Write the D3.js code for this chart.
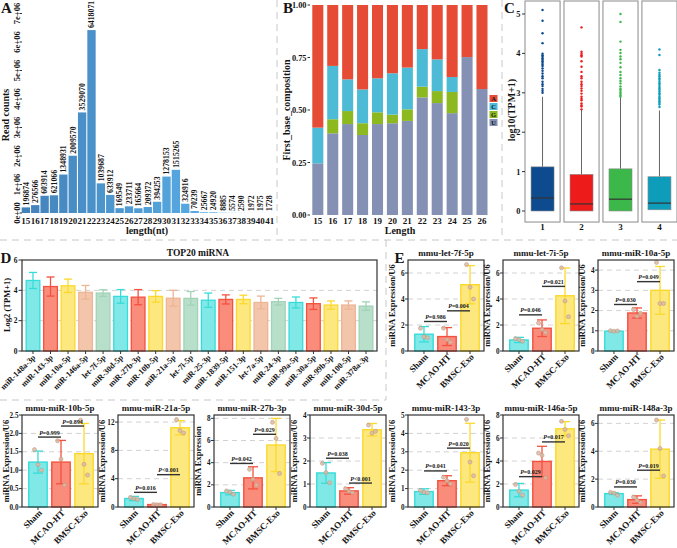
<!DOCTYPE html>
<html>
<head>
<meta charset="utf-8">
<script src="https://cdn.jsdelivr.net/npm/d3@7/dist/d3.min.js"></script>
<style>
  body { margin: 0; background: #fff; }
  text { font-family: "Liberation Serif", "Times New Roman", serif; font-weight: bold; fill: #151515; }
</style>
</head>
<body>
<svg id="fig" width="677" height="548"></svg>
<script>
// ---- A: read length distribution
const lengthsA = [15, 16, 17, 18, 19, 20, 21, 22, 23, 24, 25, 26, 27, 28, 29, 30, 31, 32, 33, 34, 35, 36, 37, 38, 39, 40, 41];
const readCounts = [196874, 276566, 603914, 621066, 1348931, 2009570, 3529070, 6418071, 1039687, 633912, 169549, 233711,
  165664, 209372, 394253, 1278153, 1515265, 324916, 70239, 25667, 24920, 8885, 5574, 2590, 1972, 1975, 1728];
const ticksA = [0, 1e6, 2e6, 3e6, 4e6, 5e6, 6e6, 7e6];
const tickLabelsA = ['0e+00', '1e+06', '2e+06', '3e+06', '4e+06', '5e+06', '6e+06', '7e+06'];

// ---- B: first base composition (fractions, bottom to top U, G, C, A)
const lengthsB = [15, 16, 17, 18, 19, 20, 21, 22, 23, 24, 25, 26];
const baseU = [0.246, 0.389, 0.433, 0.381, 0.433, 0.437, 0.448, 0.560, 0.533, 0.485, 0.752, 0.600];
const baseG = [0.000, 0.067, 0.062, 0.056, 0.056, 0.041, 0.055, 0.051, 0.057, 0.101, 0.000, 0.000];
const baseC = [0.170, 0.254, 0.151, 0.161, 0.162, 0.197, 0.199, 0.179, 0.151, 0.071, 0.000, 0.000];
const baseA = [0.584, 0.290, 0.354, 0.402, 0.349, 0.325, 0.298, 0.210, 0.259, 0.343, 0.248, 0.400];

// ---- C: log10(TPM+1) boxplots
const groupsC = ['1', '2', '3', '4'];
const q1C = [0, 0, 0, 0.03];
const medC = [0.33, 0.18, 0.30, 0.20];
const q3C = [1.12, 0.93, 1.07, 0.87];
const whiskC = [2.9, 2.57, 2.9, 2.55];
const outliersC = [
  [5.10, 4.83, 4.51, 4.26, 3.99, 3.95, 3.92, 3.88, 3.84, 3.80, 3.76, 3.72, 3.68, 3.62, 3.56, 3.49, 3.42, 3.37, 3.28, 3.22, 3.17, 3.10, 3.05, 3.00],
  [4.66, 4.04, 3.99, 3.95, 3.92, 3.80, 3.66, 3.53, 3.42, 3.37, 3.28, 3.22, 3.17, 3.11, 3.05, 2.98, 2.90, 2.85, 2.81, 2.73, 2.68, 2.65, 2.58],
  [5.00, 4.80, 4.30, 4.09, 4.01, 3.92, 3.85, 3.76, 3.65, 3.53, 3.45, 3.37, 3.30, 3.24, 3.16, 3.10, 3.07, 3.02, 2.98, 2.94, 2.90],
  [4.10, 3.96, 3.58, 3.51, 3.46, 3.42, 3.37, 3.33, 3.28, 3.24, 3.20, 3.15, 3.11, 3.07, 3.03, 2.99, 2.95, 2.90, 2.86, 2.82, 2.78, 2.74, 2.70, 2.64]
];

// ---- D: top20 miRNA
const mirD = ['miR-148a-3p', 'miR-143-3p', 'miR-10a-5p', 'miR-146a-5p', 'let-7f-5p', 'miR-30d-5p', 'miR-27b-3p', 'miR-10b-5p',
  'miR-21a-5p', 'let-7i-5p', 'miR-25-3p', 'miR-1839-5p', 'miR-151-3p', 'let-7a-5p', 'miR-24-3p', 'miR-99a-5p',
  'miR-30a-5p', 'miR-99b-5p', 'miR-100-5p', 'miR-378a-3p'];
const meanD = [4.65, 4.25, 4.30, 3.87, 3.82, 3.60, 3.55, 3.60, 3.48, 3.47, 3.35, 3.40, 3.40, 3.20, 3.25, 3.20, 3.12, 3.03, 3.03, 2.96];
const sdD = [0.53, 0.63, 0.44, 0.45, 0.22, 0.45, 0.50, 0.38, 0.52, 0.45, 0.47, 0.30, 0.28, 0.42, 0.22, 0.36, 0.38, 0.27, 0.27, 0.28];

// ---- E: qPCR panels
const groupsE = ['Sham', 'MCAO-HT', 'BMSC-Exo'];
const titlesE = ['mmu-let-7f-5p', 'mmu-let-7i-5p', 'mmu-miR-10a-5p', 'mmu-miR-10b-5p', 'mmu-miR-21a-5p',
  'mmu-miR-27b-3p', 'mmu-miR-30d-5p', 'mmu-miR-143-3p', 'mmu-miR-146a-5p', 'mmu-miR-148a-3p'];
const yLabelsE = ['miRNA Expression/U6', 'miRNA Expression/U6', 'miRNA Expression/U6', 'miRNA Expression/U6', 'miRNA Expression/U6',
  'miRNA Expression', 'miRNA Expression/U6', 'miRNA Expression/U6', 'miRNA Expression/U6', 'miRNA Expression/U6'];
const yMaxE = [7, 7, 4.5, 2.5, 13, 8.3, 4, 5, 8, 6.6];
const ticksE = [[0, 2, 4, 6], [0, 2, 4, 6], [0, 1, 2, 3, 4], [0, 0.5, 1, 1.5, 2, 2.5], [0, 4, 8, 12],
  [0, 2, 4, 6, 8], [0, 1, 2, 3, 4], [0, 1, 2, 3, 4, 5], [0, 2, 4, 6, 8], [0, 2, 4, 6]];
const meansE = [[1.29, 1.11, 5.10], [0.85, 1.75, 4.25], [0.98, 1.88, 3.00], [1.22, 1.22, 1.45], [1.20, 0.34, 11.2],
  [1.30, 2.63, 5.59], [1.48, 0.70, 3.36], [0.84, 1.43, 2.95], [1.47, 3.96, 6.80], [0.96, 0.53, 4.15]];
const sdE = [[0.59, 0.69, 1.47], [0.20, 0.64, 2.14], [0.03, 0.25, 1.18], [0.30, 0.59, 0.82], [0.30, 0.05, 1.00],
  [0.20, 1.00, 2.40], [0.45, 0.14, 0.27], [0.15, 0.27, 1.60], [0.58, 1.32, 0.62], [0.06, 0.27, 2.09]];
const pointsE = [
  [[1.75, 1.10, 1.02], [1.76, 0.88, 0.68], [6.65, 4.90, 4.00]],
  [[0.95, 0.88, 0.75], [2.15, 1.65, 1.42], [6.40, 3.85, 2.64]],
  [[1.00, 0.98, 0.99], [2.05, 1.72, 1.87], [4.38, 2.35, 2.35]],
  [[1.56, 1.15, 1.00], [1.80, 1.30, 0.60], [2.36, 1.16, 0.87]],
  [[1.35, 1.20, 1.05], [0.36, 0.33, 0.32], [12.35, 10.8, 10.45]],
  [[1.45, 1.35, 1.15], [3.40, 2.50, 1.98], [7.64, 6.19, 3.02]],
  [[1.90, 1.50, 1.05], [0.80, 0.68, 0.62], [3.56, 3.21, 3.29]],
  [[0.90, 0.80, 0.78], [1.62, 1.42, 1.25], [4.76, 2.44, 1.70]],
  [[1.96, 1.38, 1.03], [4.69, 4.49, 2.55], [7.45, 6.75, 6.20]],
  [[1.05, 1.00, 0.85], [0.72, 0.48, 0.31], [6.24, 4.20, 2.23]]
];
const pLabelsE = [['P=0.986', 'P=0.004'], ['P=0.046', 'P=0.021'], ['P=0.030', 'P=0.049'], ['P=0.999', 'P=0.894'],
  ['P=0.016', 'P<0.001'], ['P=0.042', 'P=0.029'], ['P=0.038', 'P<0.001'], ['P=0.041', 'P=0.020'],
  ['P=0.029', 'P=0.017'], ['P=0.030', 'P=0.019']];
const bracketYE = [[2.27, 3.09], [2.78, 4.97], [2.3, 3.43], [1.9, 2.2], [2.07, 4.57], [3.93, 6.56], [2.12, 1.04],
  [1.96, 3.2], [2.64, 5.66], [1.44, 2.64]];

const svg = d3.select('#fig');

function label(g, x, y, s, size, anchor, rot) {
  const t = g.append('text').attr('font-size', size).attr('text-anchor', anchor || 'start').text(s);
  if (rot) t.attr('transform', `translate(${x},${y}) rotate(${rot})`);
  else t.attr('x', x).attr('y', y);
  return t;
}

// dashed panel separators
const sep = svg.append('g').attr('stroke', '#c8c8c8').attr('stroke-width', 1).attr('stroke-dasharray', '7,5');
[[0, 240, 677, 240], [277, 0, 277, 240], [502, 0, 502, 240], [386, 240, 386, 400], [0, 400, 386, 400]].forEach(l => {
  sep.append('line').attr('x1', l[0]).attr('y1', l[1]).attr('x2', l[2]).attr('y2', l[3]);
});

// ================= A =================
const gA = svg.append('g');
const xA = d3.scaleBand().domain(lengthsA).range([21.5, 274]).paddingInner(0.11).paddingOuter(0.02);
const yA = d3.scaleLinear().domain([0, 7e6]).range([213, 13.5]);
const colA = d3.scaleLinear().domain([15, 41]).range(['#4482ba', '#5ebbf3']);
gA.selectAll('rect').data(readCounts).join('rect')
  .attr('x', (d, i) => xA(lengthsA[i])).attr('y', d => yA(d))
  .attr('width', xA.bandwidth()).attr('height', d => yA(0) - yA(d))
  .attr('fill', (d, i) => colA(lengthsA[i]));
gA.selectAll('text.val').data(readCounts).join('text').attr('class', 'val')
  .attr('font-size', 7.8)
  .attr('transform', (d, i) => `translate(${xA(lengthsA[i]) + xA.bandwidth() / 2 + 2.8},${yA(d) - 2}) rotate(-90)`)
  .text(d => d);
ticksA.forEach((t, i) => {
  gA.append('line').attr('x1', 19.5).attr('x2', 22).attr('y1', yA(t)).attr('y2', yA(t)).attr('stroke', '#333');
  label(gA, 19.5, yA(t), tickLabelsA[i], 8.6, 'middle', -90);
});
lengthsA.forEach(l => label(gA, xA(l) + xA.bandwidth() / 2, 223.5, l, 9, 'middle'));
label(gA, 147, 233.5, 'length(nt)', 10, 'middle');
label(gA, 9, 115, 'Read counts', 10, 'middle', -90);
label(gA, 1, 13, 'A', 15);

// ================= B =================
const gB = svg.append('g');
const xB = d3.scaleBand().domain(lengthsB).range([310.8, 489]).paddingInner(0.26).paddingOuter(0.1);
const yB = d3.scaleLinear().domain([0, 1]).range([215, 5]);
const rowsB = lengthsB.map((l, i) => ({ len: l, U: baseU[i], G: baseG[i], C: baseC[i], A: baseA[i] }));
const colB = { A: '#e64b35', C: '#4dbbd5', G: '#8db920', U: '#8491b4' };
const stackB = d3.stack().keys(['U', 'G', 'C', 'A'])(rowsB);
gB.selectAll('g.layer').data(stackB).join('g').attr('fill', s => colB[s.key])
  .selectAll('rect').data(s => s).join('rect')
  .attr('x', d => xB(d.data.len)).attr('width', xB.bandwidth())
  .attr('y', d => yB(d[1])).attr('height', d => yB(d[0]) - yB(d[1]));
[0, 0.25, 0.5, 0.75, 1].forEach(t => {
  gB.append('line').attr('x1', 307.5).attr('x2', 310).attr('y1', yB(t)).attr('y2', yB(t)).attr('stroke', '#333');
  label(gB, 306.5, yB(t) + 3, d3.format('.2f')(t), 8.3, 'end');
});
lengthsB.forEach(l => label(gB, xB(l) + xB.bandwidth() / 2, 223.5, l, 9, 'middle'));
label(gB, 400, 233.5, 'Length', 10, 'middle');
label(gB, 290, 110, 'First_base_composition', 10, 'middle', -90);
label(gB, 283, 13, 'B', 15);
['A', 'C', 'G', 'U'].forEach((k, i) => {
  gB.append('rect').attr('x', 489.5).attr('y', 95 + i * 8).attr('width', 8).attr('height', 7).attr('fill', colB[k]);
  label(gB, 493.5, 101 + i * 8, k, 6.5, 'middle');
});

// ================= C =================
const gC = svg.append('g');
const xC = d3.scaleBand().domain(groupsC).range([525, 677]).paddingInner(0.1);
const yC = d3.scaleLinear().domain([0, 5]).range([211, 14]);
const colC = ['#0d4a8e', '#ee1b1b', '#3cb749', '#0d9dbb'];
groupsC.forEach((g, i) => {
  const x0 = xC(g), cx = x0 + xC.bandwidth() / 2;
  gC.append('rect').attr('x', x0).attr('y', yC(5.33)).attr('width', xC.bandwidth())
    .attr('height', yC(-0.28) - yC(5.33)).attr('fill', 'none').attr('stroke', '#8a8a8a');
  gC.append('line').attr('x1', cx).attr('x2', cx).attr('y1', yC(q3C[i])).attr('y2', yC(whiskC[i]))
    .attr('stroke', '#666').attr('stroke-width', 1);
  gC.append('rect').attr('x', cx - 11.5).attr('width', 23).attr('y', yC(q3C[i]))
    .attr('height', yC(q1C[i]) - yC(q3C[i])).attr('fill', colC[i]).attr('stroke', '#8c8c8c').attr('stroke-width', 0.6);
  gC.append('line').attr('x1', cx - 11.5).attr('x2', cx + 11.5).attr('y1', yC(medC[i])).attr('y2', yC(medC[i]))
    .attr('stroke', '#333').attr('stroke-width', 1.2);
  gC.selectAll(null).data(outliersC[i]).join('circle')
    .attr('cx', cx).attr('cy', d => yC(d)).attr('r', 1.2).attr('fill', colC[i]);
  label(gC, cx, 230, g, 9, 'middle');
});
[0, 1, 2, 3, 4, 5].forEach(t => {
  gC.append('line').attr('x1', 522).attr('x2', 525).attr('y1', yC(t)).attr('y2', yC(t)).attr('stroke', '#333');
  label(gC, 520.5, yC(t) + 3, t, 8.3, 'end');
});
label(gC, 515, 110, 'log10(TPM+1)', 10, 'middle', -90);
label(gC, 504, 13, 'C', 15);

// ================= D =================
const gD = svg.append('g');
const fillD = ['#80e9e8', '#fa8c7c', '#fde77f', '#f3c6ab', '#b7dfca'];
const strokeD = ['#36dcd9', '#f4513f', '#fbd92c', '#ecb595', '#a2d3b7'];
const yD = d3.scaleLinear().domain([0, 6]).range([351, 260]);
const xD = d3.scaleBand().domain(mirD).range([23, 376]).paddingInner(0.22).paddingOuter(0.18);
[2, 4].forEach(t => gD.append('line').attr('x1', 22).attr('x2', 377).attr('y1', yD(t)).attr('y2', yD(t))
  .attr('stroke', '#d2d2d2').attr('stroke-dasharray', '5,4'));
mirD.forEach((m, i) => {
  const x0 = xD(m), cx = x0 + xD.bandwidth() / 2, c = i % 5;
  gD.append('rect').attr('x', x0).attr('y', yD(meanD[i])).attr('width', xD.bandwidth())
    .attr('height', yD(0) - yD(meanD[i])).attr('fill', fillD[c]).attr('stroke', strokeD[c]).attr('stroke-width', 1.3);
  const e = gD.append('g').attr('stroke', strokeD[c]).attr('stroke-width', 1.3);
  e.append('line').attr('x1', cx).attr('x2', cx).attr('y1', yD(meanD[i] - sdD[i])).attr('y2', yD(meanD[i] + sdD[i]));
  [meanD[i] - sdD[i], meanD[i] + sdD[i]].forEach(v =>
    e.append('line').attr('x1', cx - 4).attr('x2', cx + 4).attr('y1', yD(v)).attr('y2', yD(v)));
  gD.append('line').attr('x1', cx).attr('x2', cx).attr('y1', 351).attr('y2', 354).attr('stroke', '#333');
  label(gD, cx + 3, 358, m, 8.2, 'end', -45);
});
gD.append('rect').attr('x', 22).attr('y', 260).attr('width', 355).attr('height', 91)
  .attr('fill', 'none').attr('stroke', '#333').attr('stroke-width', 1.2);
[0, 2, 4, 6].forEach(t => {
  gD.append('line').attr('x1', 18.5).attr('x2', 22).attr('y1', yD(t)).attr('y2', yD(t)).attr('stroke', '#333');
  label(gD, 17.5, yD(t) + 2.6, t, 7.5, 'end');
});
label(gD, 9.5, 305, 'Log2 (TPM+1)', 8.5, 'middle', -90);
label(gD, 198, 256, 'TOP20 miRNA', 9.5, 'middle');
label(gD, 0.5, 263, 'D', 15);

// ================= E =================
const fillE = ['#80e9e8', '#fa8c7c', '#fde77f'];
const strokeE = ['#36dcd9', '#f4513f', '#fbd92c'];
const jitterE = [-3.5, 0, 3.5];
const panelPos = [[408, 260, 351], [503, 260, 351], [598, 260, 351],
  [22, 415, 507], [118, 415, 507], [214, 415, 507], [310, 415, 507], [408, 415, 507], [503, 415, 507], [598, 415, 507]];

function drawE(i) {
  const [x0, top, base] = panelPos[i];
  const w = 76;
  const g = svg.append('g');
  const x = d3.scaleBand().domain(groupsE).range([x0 + 4, x0 + 74]).paddingInner(0.2).paddingOuter(0.12);
  const y = d3.scaleLinear().domain([0, yMaxE[i]]).range([base, top]);
  const fmt = i === 3 ? d3.format('.1f') : d => d;
  ticksE[i].filter(t => t > 0 && y(t) > top + 2).forEach(t =>
    g.append('line').attr('x1', x0).attr('x2', x0 + w).attr('y1', y(t)).attr('y2', y(t))
      .attr('stroke', '#d2d2d2').attr('stroke-dasharray', '5,4'));
  groupsE.forEach((grp, j) => {
    const bx = x(grp), cx = bx + x.bandwidth() / 2, m = meansE[i][j], s = sdE[i][j];
    g.append('rect').attr('x', bx).attr('y', y(m)).attr('width', x.bandwidth()).attr('height', y(0) - y(m))
      .attr('fill', fillE[j]).attr('stroke', strokeE[j]).attr('stroke-width', 1.4);
    const e = g.append('g').attr('stroke', strokeE[j]).attr('stroke-width', 1.3);
    e.append('line').attr('x1', cx).attr('x2', cx).attr('y1', y(Math.max(0, m - s))).attr('y2', y(m + s));
    [Math.max(0, m - s), m + s].forEach(v =>
      e.append('line').attr('x1', cx - 5).attr('x2', cx + 5).attr('y1', y(v)).attr('y2', y(v)));
    g.selectAll(null).data(pointsE[i][j]).join('circle')
      .attr('cx', (d, k) => cx + jitterE[k]).attr('cy', d => y(d)).attr('r', 2)
      .attr('fill', '#dcbba6').attr('fill-opacity', 0.85).attr('stroke', '#bf9a85').attr('stroke-width', 0.6);
    g.append('line').attr('x1', cx).attr('x2', cx).attr('y1', base).attr('y2', base + 3).attr('stroke', '#333');
    label(g, cx + 4.5, base + 6.5, grp, 9, 'end', -45);
  });
  g.append('rect').attr('x', x0).attr('y', top).attr('width', w).attr('height', base - top)
    .attr('fill', 'none').attr('stroke', '#333').attr('stroke-width', 1.2);
  ticksE[i].forEach(t => {
    g.append('line').attr('x1', x0 - 3).attr('x2', x0).attr('y1', y(t)).attr('y2', y(t)).attr('stroke', '#333');
    label(g, x0 - 3.5, y(t) + 2.5, fmt(t), 7.2, 'end');
  });
  // significance brackets
  [[0, 1], [1, 2]].forEach((pr, k) => {
    const xa = x(groupsE[pr[0]]) + x.bandwidth() / 2, xb = x(groupsE[pr[1]]) + x.bandwidth() / 2;
    const by = y(bracketYE[i][k]);
    g.append('line').attr('x1', xa).attr('x2', xb).attr('y1', by).attr('y2', by)
      .attr('stroke', '#333').attr('stroke-width', 1.4);
    const t = g.append('text').attr('x', (xa + xb) / 2).attr('y', by - 2.5).attr('font-size', 6).attr('text-anchor', 'middle');
    t.append('tspan').attr('font-style', 'italic').text(pLabelsE[i][k].slice(0, 1));
    t.append('tspan').text(pLabelsE[i][k].slice(1));
  });
  label(g, x0 + w / 2, top - 4, titlesE[i], 9, 'middle');
  label(g, x0 - 13.5, (top + base) / 2, yLabelsE[i], 8.5, 'middle', -90);
}
titlesE.forEach((t, i) => drawE(i));
label(svg, 394.5, 263, 'E', 15);
</script>
</body>
</html>
